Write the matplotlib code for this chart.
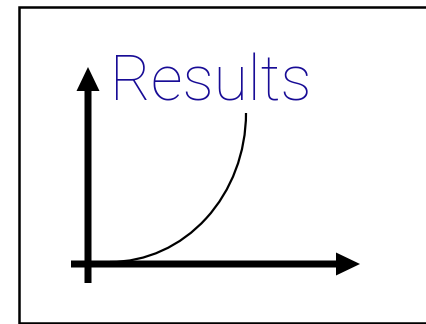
import matplotlib
matplotlib.use("Agg")
import matplotlib.pyplot as plt
from matplotlib.patches import FancyArrow, Arc

# ---- content ----
title_text = "Results"
# axis arrows (start x, start y, end x, end y) in pixel space, y up
x_axis = [71, 60, 360, 60]
y_axis = [88, 41, 88, 257]
# growth curve as a quarter ellipse: centre, radii
curve_center = [110, 211]
curve_radii = [136, 149]
# frame: left, bottom, top (right edge lies outside the picture)
frame_left, frame_bottom, frame_top = 19, 1, 317

W, H = 426, 324
fig = plt.figure(figsize=(W / 100 + 1e-6, H / 100 + 1e-6), dpi=100)
ax = fig.add_axes([0, 0, 1, 1])
ax.set_xlim(0, W)
ax.set_ylim(0, H)
ax.axis("off")

ax.plot([W + 10, frame_left, frame_left, W + 10],
        [frame_top, frame_top, frame_bottom, frame_bottom],
        color="black", lw=1.8, solid_joinstyle="miter")

for (x0, y0, x1, y1) in (x_axis, y_axis):
    ax.add_patch(FancyArrow(x0, y0, x1 - x0, y1 - y0, width=7, head_width=23,
                            head_length=24, length_includes_head=True,
                            color="black", lw=0))

ax.add_patch(Arc(curve_center, 2 * curve_radii[0], 2 * curve_radii[1],
                 theta1=270, theta2=360, color="black", lw=1.6))

ax.text(110, 224, title_text, fontsize=45, family="Roboto", weight="light",
        color="#180c96", ha="left", va="baseline")

fig.savefig("out.png", dpi=100)
